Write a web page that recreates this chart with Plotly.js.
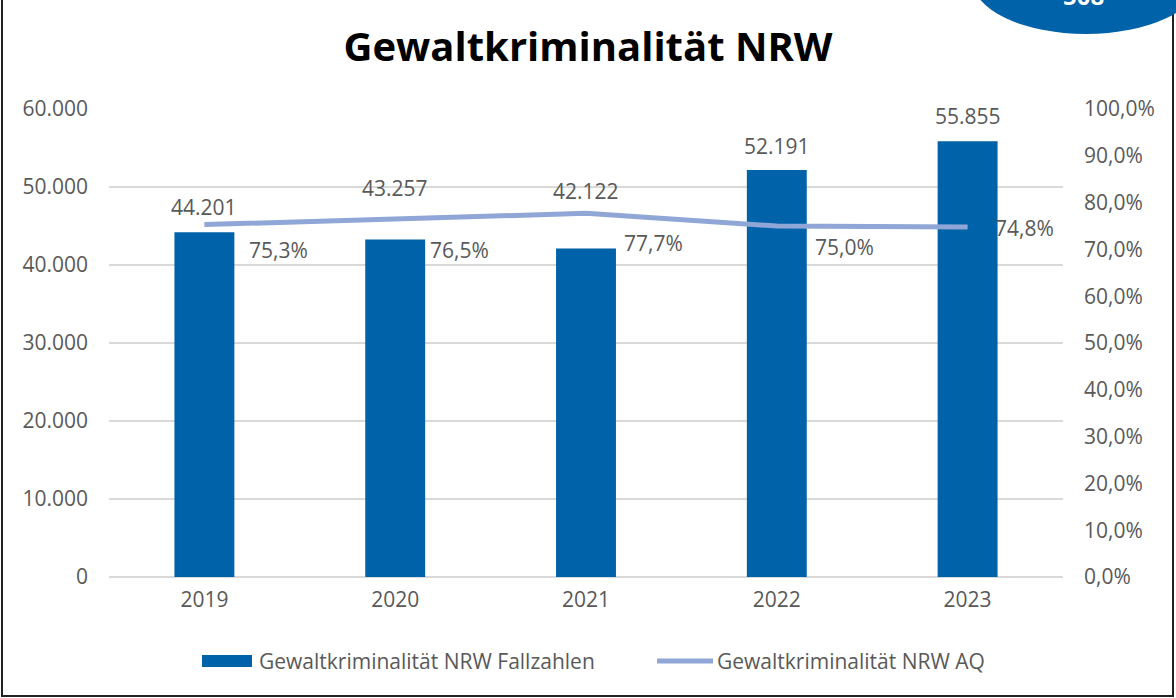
<!DOCTYPE html>
<html><head><meta charset="utf-8">
<script src="https://cdn.plot.ly/plotly-3.0.1.min.js"></script>
<style>html,body{margin:0;padding:0;background:#fff}#c{width:1176px;height:698px}</style>
</head><body><div id="c"></div>
<script>
const years = ['2019','2020','2021','2022','2023'];
const fallzahlen = [44201, 43257, 42122, 52191, 55855];
const aq = [75.3, 76.5, 77.7, 75.0, 74.8];
const leftTicks = [0,10000,20000,30000,40000,50000,60000];
const leftTickText = ['0','10.000','20.000','30.000','40.000','50.000','60.000'];
const rightTicks = [0,10,20,30,40,50,60,70,80,90,100];
const rightTickText = ['0,0%','10,0%','20,0%','30,0%','40,0%','50,0%','60,0%','70,0%','80,0%','90,0%','100,0%'];
const barName = 'Gewaltkriminalität NRW Fallzahlen';
const lineName = 'Gewaltkriminalität NRW AQ';
const titleText = 'Gewaltkriminalität NRW';
const badgeText = '508';

// style: label offsets in px
const aqLabelOffsets = [[43,-25],[33,-31],[36,-30],[36,-21],[25,-1]];
const barLabelShift = [25,52,57,24,25];

const FONT = 'Open Sans, Liberation Sans, sans-serif';
const FS = 21;
const GREY = '#595959';
const BAR = '#0062A8';
const LINE = '#8FA6D6';
const fmtDE = v => v.toString().replace(/\B(?=(\d{3})+(?!\d))/g, '.');
const fmtPct = v => v.toFixed(1).replace('.', ',') + '%';

const L = 109, R = 113, T = 109, B = 121, W = 1176, H = 698;
const pw = W - L - R, ph = H - T - B;
const px = x => (x - L) / pw;
const py = y => (H - B - y) / ph;

const idx = years.map((_, i) => i);
const traces = [
  {type:'bar', x: idx, y: fallzahlen, name: barName, marker:{color:BAR}, yaxis:'y', hoverinfo:'skip'},
  {type:'scatter', mode:'lines', x: idx, y: aq, name: lineName, yaxis:'y2',
   line:{color:LINE, width:5, shape:'linear'}, hoverinfo:'skip'}
];

const annotations = [];
idx.forEach(i=>{
  annotations.push({x: i, y: fallzahlen[i], xref:'x', yref:'y', text: fmtDE(fallzahlen[i]),
    showarrow:false, yanchor:'middle', xanchor:'center', yshift: barLabelShift[i],
    font:{family:FONT, size:FS, color:GREY}});
  annotations.push({x: i, y: aq[i], xref:'x', yref:'y2', text: fmtPct(aq[i]),
    showarrow:false, yanchor:'middle', xanchor:'left', xshift: aqLabelOffsets[i][0], yshift: aqLabelOffsets[i][1],
    font:{family:FONT, size:FS, color:GREY}});
});
// custom legend texts
annotations.push({x: px(257), y: py(661), xref:'paper', yref:'paper', text: barName, showarrow:false,
  xanchor:'left', yanchor:'middle', font:{family:FONT, size:FS, color:GREY}});
annotations.push({x: px(715), y: py(661), xref:'paper', yref:'paper', text: lineName, showarrow:false,
  xanchor:'left', yanchor:'middle', font:{family:FONT, size:FS, color:GREY}});
annotations.push({x: px(1083), y: py(-4), xref:'paper', yref:'paper', text:'<b>'+badgeText+'</b>',
  showarrow:false, xanchor:'center', yanchor:'middle', font:{family:FONT, size:24, color:'#ffffff'}});

const layout = {
  width: W, height: H,
  margin:{l:L, r:R, t:T, b:B},
  paper_bgcolor:'#ffffff', plot_bgcolor:'#ffffff',
  title:{text:'<b>'+titleText+'</b>', x:0.5, xanchor:'center', y: 1-47/H, yanchor:'middle',
    font:{family:FONT, size:40, color:'#000000'}},
  bargap: 0.686,
  showlegend:false,
  xaxis:{type:'linear', range:[-0.5, 4.5], tickvals: idx, ticktext: years,
    tickfont:{family:FONT, size:FS, color:GREY}, showgrid:false, zeroline:false,
    showline:false, ticks:'', ticklabelstandoff: 8},
  yaxis:{range:[0,60000], tickvals:leftTicks, ticktext:leftTickText, showgrid:true, gridcolor:'#d9d9d9', gridwidth:1.5,
    zeroline:true, zerolinecolor:'#d9d9d9', zerolinewidth:1.5, ticks:'', ticklabelstandoff: 20,
    tickfont:{family:FONT, size:FS, color:GREY}},
  yaxis2:{range:[0,100], overlaying:'y', side:'right', tickvals:rightTicks, ticktext:rightTickText, showgrid:false,
    zeroline:false, ticks:'', ticklabelstandoff: 20, tickfont:{family:FONT, size:FS, color:GREY}},
  annotations: annotations,
  shapes:[
    {type:'rect', xref:'paper', yref:'paper', x0:px(2), x1:px(1173), y0:py(696), y1:py(-10),
      line:{color:'#222222', width:2}, fillcolor:'rgba(0,0,0,0)', layer:'above'},
    {type:'circle', xref:'paper', yref:'paper', x0:px(972), x1:px(1200), y0:py(34), y1:py(-75),
      line:{width:0}, fillcolor:BAR, layer:'above'},
    {type:'rect', xref:'paper', yref:'paper', x0:px(202), x1:px(252), y0:py(667), y1:py(655),
      line:{width:0}, fillcolor:BAR},
    {type:'line', xref:'paper', yref:'paper', x0:px(657), x1:px(713), y0:py(661), y1:py(661),
      line:{color:LINE, width:5}}
  ]
};
Plotly.newPlot('c', traces, layout, {displayModeBar:false, staticPlot:true});
</script></body></html>
